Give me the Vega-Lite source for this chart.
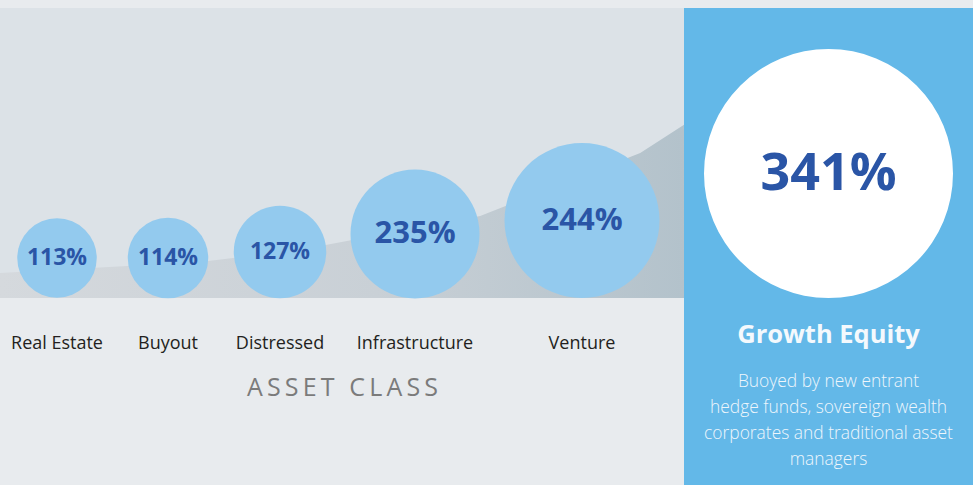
{
  "$schema": "https://vega.github.io/schema/vega-lite/v6.json",
  "background": "#e8ebee",
  "padding": 0,
  "spacing": 0,
  "config": {"view": {"stroke": null}, "font": "Open Sans", "concat": {"spacing": 0}},
  "datasets": {
    "classes": [
      {"asset": "Real Estate", "pct": 113, "label": "113%"},
      {"asset": "Buyout", "pct": 114, "label": "114%"},
      {"asset": "Distressed", "pct": 127, "label": "127%"},
      {"asset": "Infrastructure", "pct": 235, "label": "235%"},
      {"asset": "Venture", "pct": 244, "label": "244%"}
    ],
    "lead": [
      {"asset": "Growth Equity", "pct": 341, "label": "341%", "note": ["Buoyed by new entrant", "hedge funds, sovereign wealth", "corporates and traditional asset", "managers"]}
    ],
    "ramp": [
      {"t": 0, "level": 0.086},
      {"t": 0.292, "level": 0.124},
      {"t": 0.439, "level": 0.166},
      {"t": 0.702, "level": 0.283},
      {"t": 0.936, "level": 0.5},
      {"t": 1, "level": 0.597}
    ]
  },
  "hconcat": [
    {
      "width": 684,
      "height": 290,
      "title": {"text": " ", "fontSize": 1, "offset": 7},
      "view": {"fill": "#dce2e7", "stroke": null},
      "layer": [
        {
          "data": {"name": "ramp"},
          "mark": {
            "type": "area",
            "color": {"gradient": "linear", "x1": 0, "x2": 1, "y1": 0, "y2": 0,
              "stops": [{"offset": 0, "color": "#d5d9dd"}, {"offset": 0.55, "color": "#c9d0d6"}, {"offset": 1, "color": "#b3c2cb"}]}
          },
          "encoding": {
            "x": {"field": "t", "type": "quantitative", "scale": {"domain": [0, 1], "nice": false, "zero": false},
              "axis": {"title": "A\u2009S\u2009S\u2009E\u2009T\u2009 \u2009C\u2009L\u2009A\u2009S\u2009S", "values": [], "domain": false, "ticks": false, "labels": false, "grid": false,
                "titleFontSize": 25, "titleFontWeight": "normal", "titleColor": "#7b7b7b", "titleFont": "Open Sans", "titlePadding": 77}},
            "y": {"field": "level", "type": "quantitative", "scale": {"domain": [0, 1], "nice": false}, "axis": null}
          }
        },
        {
          "data": {"name": "classes"},
          "encoding": {
            "x": {"field": "pct", "type": "quantitative", "axis": null,
              "scale": {"domain": [113, 114, 127, 235, 244], "range": [57, 168, 280, 415, 582], "nice": false, "zero": false}}
          },
          "layer": [
            {
              "mark": {"type": "circle", "color": "#93caee", "opacity": 1},
              "encoding": {
                "y": {"field": "pct", "type": "quantitative", "axis": null,
                  "scale": {"domain": [113, 114, 127, 235, 244], "range": [250, 250, 244, 226, 212.5], "nice": false, "zero": false}},
                "size": {"field": "pct", "type": "quantitative", "legend": null,
                  "scale": {"domain": [113, 114, 127, 235, 244], "range": [6320, 6480, 8556, 16641, 24025], "zero": false, "nice": false}}
              }
            },
            {
              "mark": {"type": "text", "fontWeight": "bold", "color": "#2a55a6", "baseline": "middle", "align": "center"},
              "encoding": {
                "y": {"field": "pct", "type": "quantitative", "axis": null,
                  "scale": {"domain": [113, 114, 127, 235, 244], "range": [250, 250, 244, 226, 212.5], "nice": false, "zero": false}},
                "text": {"field": "label"},
                "size": {"field": "pct", "type": "quantitative", "legend": null,
                  "scale": {"type": "threshold", "domain": [200], "range": [23, 31]}}
              }
            },
            {
              "mark": {"type": "text", "fontSize": 18, "color": "#231f20", "baseline": "alphabetic", "align": "center", "dy": 196},
              "encoding": {"text": {"field": "asset"}}
            }
          ],
          "resolve": {"scale": {"size": "independent"}}
        }
      ],
      "resolve": {"scale": {"x": "independent", "y": "independent"}}
    },
    {
      "width": 289,
      "height": 477,
      "title": {"text": " ", "fontSize": 1, "offset": 7},
      "view": {"fill": "#63b8e8", "stroke": null},
      "data": {"name": "lead"},
      "encoding": {
        "x": {"field": "asset", "type": "nominal", "axis": null},
        "y": {"field": "asset", "type": "nominal", "axis": null, "scale": {"type": "point", "padding": 0, "align": 0.347}}
      },
      "layer": [
        {"mark": {"type": "circle", "color": "#ffffff", "opacity": 1, "size": 62001}},
        {"mark": {"type": "text", "fontSize": 52, "fontWeight": "bold", "color": "#2a55a6", "baseline": "middle", "align": "center"},
          "encoding": {"text": {"field": "label"}}},
        {"mark": {"type": "text", "fontSize": 25.5, "fontWeight": "bold", "color": "#f4f9fd", "baseline": "alphabetic", "align": "center", "dy": 169.5},
          "encoding": {"text": {"field": "asset"}}},
        {"mark": {"type": "text", "fontSize": 17.4, "fontWeight": 300, "color": "#eef6fc", "baseline": "alphabetic", "align": "center", "lineHeight": 26, "dy": 213.5},
          "encoding": {"text": {"field": "note"}}}
      ]
    }
  ]
}
